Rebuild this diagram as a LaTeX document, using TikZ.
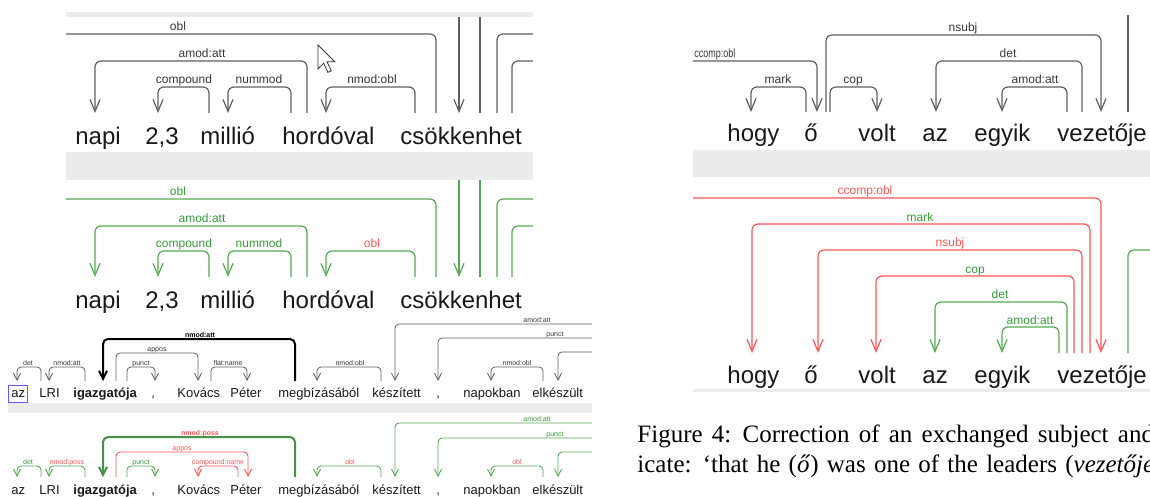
\documentclass[tikz,border=0pt]{standalone}
\usepackage{fontspec}
\setmainfont{Liberation Serif}
\newfontfamily\arialf{Liberation Sans}
\usetikzlibrary{arrows.meta}

\definecolor{wordc}{RGB}{25,25,25}
\definecolor{arcgray}{RGB}{95,95,95}
\definecolor{labgray}{RGB}{55,55,55}
\definecolor{okgreen}{RGB}{85,170,85}
\definecolor{labgreen}{RGB}{55,155,55}
\definecolor{errred}{RGB}{255,85,85}
\definecolor{band}{RGB}{236,236,236}
\definecolor{selblue}{RGB}{90,90,255}

% #1 line style, #2 x of head word, #3 x of dependent, #4 y of bar, #5 y of feet,
% #6 x of label, #7 label style, #8 label text
\newcommand\deparc[8]{%
  \coordinate (dep-from) at (#2,#5);
  \coordinate (dep-to) at (#3,#5);
  \draw[#1] (dep-from) -- (#2,#4) -- (#3,#4) -- (dep-to);
  \node[#7] at (#6,#4) {#8};
}

\tikzset{
  wordbig/.style={anchor=base west, inner sep=0, text=wordc, font=\arialf\fontsize{12}{12}\selectfont},
  wordsmall/.style={anchor=base west, inner sep=0, text=wordc, font=\arialf\fontsize{6.5}{6.5}\selectfont},
  depA/.style={draw=arcgray, line width=0.6pt, rounded corners=3pt},
  depG/.style={draw=okgreen, line width=0.6pt, rounded corners=3pt},
  depR/.style={draw=errred, line width=0.6pt, rounded corners=3pt},
  arr/.style={-{Straight Barb[length=6pt,width=5pt]}},
  depC/.style={draw=arcgray, line width=0.4pt, rounded corners=2pt},
  depCG/.style={draw=okgreen, line width=0.45pt, rounded corners=2pt},
  depCR/.style={draw=errred, line width=0.45pt, rounded corners=2pt},
  depCb/.style={draw=black, line width=1pt, rounded corners=2.5pt},
  depCGb/.style={draw=okgreen!85!black, line width=1pt, rounded corners=2.5pt},
  arrC/.style={-{Straight Barb[length=3.5pt,width=3.5pt]}},
  arrCb/.style={-{Straight Barb[length=4pt,width=4pt]}},
  labA/.style={anchor=base, inner sep=0, yshift=1.5pt, text=labgray, font=\arialf\fontsize{6}{6}\selectfont},
  labG/.style={labA, text=labgreen},
  labR/.style={labA, text=errred},
  labC/.style={anchor=base, inner sep=0, yshift=1pt, text=labgray, font=\arialf\fontsize{3.5}{3.5}\selectfont},
  labCG/.style={labC, text=labgreen},
  labCR/.style={labC, text=errred},
  labCb/.style={labC, text=black, font=\arialf\bfseries\fontsize{3.5}{3.5}\selectfont},
  labCRb/.style={labC, text=errred, font=\arialf\bfseries\fontsize{3.5}{3.5}\selectfont},
  cursor/.style={fill=white, draw=black!80, line width=0.4pt, line join=miter},
  captext/.style={anchor=base west, inner sep=0, font=\fontsize{12.5}{15}\selectfont},
}

\begin{document}
\begin{tikzpicture}[x=0.5pt, y=-0.5pt]
\useasboundingbox (0,0) rectangle (1150,497);

% ---------- upper left tree, before correction ----------
\begin{scope}
\clip (66,12) rectangle (533,152);
\fill[band] (66,12) rectangle (533,17);
\draw[depA] (60,34) -- (436,34) -- (436,113);
\node[labA] at (178,34) {obl};
\deparc{depA,arr}{307}{95}{61}{113}{202}{labA}{amod:att}
\deparc{depA,arr}{209}{158}{87}{113}{184}{labA}{compound}
\deparc{depA,arr}{291}{228}{87}{113}{259}{labA}{nummod}
\deparc{depA,arr}{415}{326}{87}{113}{372}{labA}{nmod:obl}
\draw[depA,arr] (459,17) -- (459,113);
\draw[depA] (480,17) -- (480,113);
\draw[depA] (497,113) -- (497,34) -- (545,34);
\draw[depA] (512,113) -- (512,61) -- (545,61);
\node[wordbig] (a1) at (75,145) {napi};
\node[wordbig] (a2) at (145,145) {2,3};
\node[wordbig] (a3) at (200,145) {millió};
\node[wordbig] (a4) at (282,145) {hordóval};
\node[wordbig] (a5) at (400,145) {csökkenhet};
% mouse pointer
\draw[cursor] (318,45) -- ++(0,24) -- ++(5.6,-5.8) -- ++(4.2,9.1) -- ++(3.5,-1.4) -- ++(-4.2,-9.1) -- ++(7.7,0) -- cycle;
\end{scope}
\fill[band] (66,152) rectangle (533,180);

% ---------- upper left tree, corrected ----------
\begin{scope}
\clip (66,180) rectangle (533,322);
\draw[depG] (60,199) -- (436,199) -- (436,277);
\node[labG] at (178,199) {obl};
\deparc{depG,arr}{307}{95}{226}{277}{202}{labG}{amod:att}
\deparc{depG,arr}{209}{158}{251}{277}{184}{labG}{compound}
\deparc{depG,arr}{291}{228}{251}{277}{259}{labG}{nummod}
\deparc{depG,arr}{415}{326}{251}{277}{372}{labR}{obl}
\draw[depG,arr] (459,180) -- (459,277);
\draw[depG] (480,180) -- (480,277);
\draw[depG] (497,277) -- (497,199) -- (545,199);
\draw[depG] (512,277) -- (512,226) -- (545,226);
\node[wordbig] (b1) at (75,308) {napi};
\node[wordbig] (b2) at (145,308) {2,3};
\node[wordbig] (b3) at (200,308) {millió};
\node[wordbig] (b4) at (282,308) {hordóval};
\node[wordbig] (b5) at (400,308) {csökkenhet};
\end{scope}

% ---------- lower left tree, before correction ----------
\begin{scope}
\clip (8,314) rectangle (592,403);
\deparc{depC,arrC}{41}{17}{367}{381}{28}{labC}{det}
\deparc{depC,arrC}{85}{49}{367}{381}{67}{labC}{nmod:att}
\deparc{depCb,arrCb}{295}{103}{339}{381}{200}{labCb}{nmod:att}
\deparc{depC,arrC}{116}{198}{353}{381}{157}{labC}{appos}
\deparc{depC,arrC}{127}{155}{367}{381}{141}{labC}{punct}
\deparc{depC,arrC}{211}{247}{367}{381}{228}{labC}{flat:name}
\deparc{depC,arrC}{381}{317}{367}{381}{350}{labC}{nmod:obl}
\draw[depC,arrC] (600,324) -- (395,324) -- (395,381);
\node[labC] at (537,324) {amod:att};
\draw[depC,arrC] (600,338) -- (438,338) -- (438,381);
\node[labC] at (555,338) {punct};
\deparc{depC,arrC}{543}{491}{367}{381}{517}{labC}{nmod:obl}
\draw[depC,arrC] (600,352) -- (558,352) -- (558,381);
\node[wordsmall] (c1) at (11,397) {az};
\draw[selblue, line width=0.4pt] (8.5,385) rectangle (27,402);
\node[wordsmall] (c2) at (39,397) {LRI};
\node[wordsmall] (c3) at (73,397) {\bfseries igazgatója};
\node[wordsmall] (c4) at (151,397) {,};
\node[wordsmall] (c5) at (177,397) {Kovács};
\node[wordsmall] (c6) at (230,397) {Péter};
\node[wordsmall] (c7) at (278,397) {megbízásából};
\node[wordsmall] (c8) at (372,397) {készített};
\node[wordsmall] (c9) at (436,397) {,};
\node[wordsmall] (c10) at (463,397) {napokban};
\node[wordsmall] (c11) at (532,397) {elkészült};
\end{scope}
\fill[band] (8,403) rectangle (592,413);

% ---------- lower left tree, corrected ----------
\begin{scope}
\clip (8,413) rectangle (592,497);
\deparc{depCG,arrC}{41}{17}{466}{477}{28}{labCG}{det}
\deparc{depCG,arrC}{85}{49}{466}{477}{67}{labCR}{nmod:poss}
\deparc{depCGb,arrCb}{295}{103}{437}{477}{200}{labCRb}{nmod:poss}
\deparc{depCR,arrC}{116}{248}{452}{477}{182}{labCR}{appos}
\deparc{depCG,arrC}{127}{155}{466}{477}{141}{labCG}{punct}
\deparc{depCR,arrC}{238}{198}{466}{477}{218}{labCR}{compound:name}
\deparc{depCG,arrC}{381}{317}{466}{477}{350}{labCR}{obl}
\draw[depCG,arrC] (600,423) -- (395,423) -- (395,477);
\node[labCG] at (537,423) {amod:att};
\draw[depCG,arrC] (600,438) -- (438,438) -- (438,477);
\node[labCG] at (555,438) {punct};
\deparc{depCG,arrC}{543}{491}{466}{477}{517}{labCR}{obl}
\draw[depCG,arrC] (600,452) -- (558,452) -- (558,477);
\node[wordsmall] (d1) at (11,494) {az};
\node[wordsmall] (d2) at (39,494) {LRI};
\node[wordsmall] (d3) at (73,494) {\bfseries igazgatója};
\node[wordsmall] (d4) at (151,494) {,};
\node[wordsmall] (d5) at (177,494) {Kovács};
\node[wordsmall] (d6) at (230,494) {Péter};
\node[wordsmall] (d7) at (278,494) {megbízásából};
\node[wordsmall] (d8) at (372,494) {készített};
\node[wordsmall] (d9) at (436,494) {,};
\node[wordsmall] (d10) at (463,494) {napokban};
\node[wordsmall] (d11) at (532,494) {elkészült};
\end{scope}

% ---------- right tree, before correction ----------
\begin{scope}
\clip (693,0) rectangle (1150,150);
\draw[depA,arr] (680,61) -- (817,61) -- (817,112);
\node[labA, anchor=base west] at (694,61) {\scalebox{0.75}[1]{ccomp:obl}};
\deparc{depA,arr}{806}{751}{87}{112}{778}{labA}{mark}
\deparc{depA,arr}{826}{1101}{35}{112}{963}{labA}{nsubj}
\deparc{depA,arr}{830}{877}{87}{112}{853}{labA}{cop}
\deparc{depA,arr}{1082}{936}{61}{112}{1008}{labA}{det}
\deparc{depA,arr}{1067}{1002}{87}{112}{1035}{labA}{amod:att}
\draw[depA] (1128,15) -- (1128,112);
\node[wordbig] (e1) at (727,142) {hogy};
\node[wordbig] (e2) at (804,142) {ő};
\node[wordbig] (e3) at (858,142) {volt};
\node[wordbig] (e4) at (922,142) {az};
\node[wordbig] (e5) at (974,142) {egyik};
\node[wordbig] (e6) at (1057,142) {vezetője};
\end{scope}
\fill[band] (693,150) rectangle (1150,177);

% ---------- right tree, corrected ----------
\begin{scope}
\clip (693,177) rectangle (1150,392);
\draw[depR,arr] (680,198) -- (1101,198) -- (1101,353);
\node[labR] at (865,198) {ccomp:obl};
\deparc{depR,arr}{1090}{752}{224}{353}{920}{labG}{mark}
\deparc{depR,arr}{1082}{818}{250}{353}{950}{labR}{nsubj}
\deparc{depR,arr}{1074}{876}{276}{353}{975}{labG}{cop}
\deparc{depG,arr}{1067}{935}{302}{353}{1000}{labG}{det}
\deparc{depG,arr}{1059}{1002}{327}{353}{1030}{labG}{amod:att}
\draw[depG] (1160,250) -- (1128,250) -- (1128,353);
\node[wordbig] (f1) at (727,383) {hogy};
\node[wordbig] (f2) at (804,383) {ő};
\node[wordbig] (f3) at (858,383) {volt};
\node[wordbig] (f4) at (922,383) {az};
\node[wordbig] (f5) at (974,383) {egyik};
\node[wordbig] (f6) at (1057,383) {vezetője};
\fill[band] (693,389) rectangle (1150,392);
\end{scope}

% ---------- caption ----------
\begin{scope}
\clip (600,400) rectangle (1150,497);
\node[captext] (cap1) at (637,442)
  {\spaceskip=.37em\relax\xspaceskip=.45em\relax Figure 4: Correction of an exchanged subject and};
\node[captext] (cap2) at (637,472)
  {\spaceskip=.33em\relax\xspaceskip=.45em\relax icate: ‘that he (\textit{ő}) was one of the leaders (\textit{vezetője}};
\end{scope}
\end{tikzpicture}
\end{document}
